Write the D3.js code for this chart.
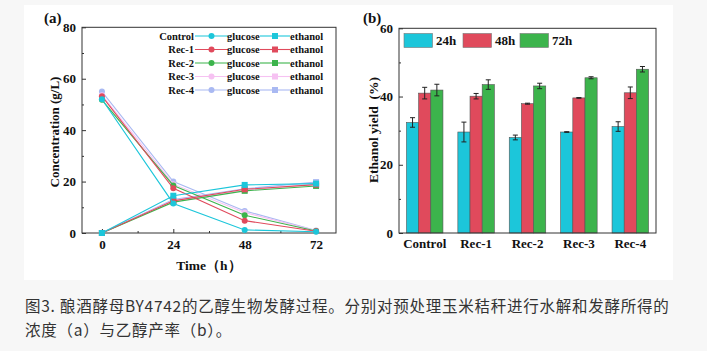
<!DOCTYPE html>
<html>
<head>
<meta charset="utf-8">
<script src="https://cdn.jsdelivr.net/npm/d3@7"></script>
<style>
  html, body { margin: 0; padding: 0; background: #f7f7f7; }
  svg { display: block; }
  .serif { font-family: "Liberation Serif", "Times New Roman", serif; font-weight: bold; fill: #111; }
</style>
</head>
<body>
<svg id="chart" width="707" height="351"></svg>
<script>
// ---- data ----
const times = [0, 24, 48, 72];
const strains = ['Control', 'Rec-1', 'Rec-2', 'Rec-3', 'Rec-4'];
const strainColors = ['#1cc6da', '#e04a5c', '#3cb44c', '#f6c2f2', '#a9b9f2'];
const glucose = [
  [52.0, 11.5, 1.2, 0.5],
  [53.2, 17.4, 4.8, 0.7],
  [51.8, 18.5, 6.9, 0.8],
  [53.6, 19.0, 8.0, 0.9],
  [55.0, 20.0, 8.6, 1.0]
];
const ethanol = [
  [0, 14.5, 18.7, 19.2],
  [0, 12.5, 17.0, 18.8],
  [0, 12.0, 16.4, 18.3],
  [0, 12.6, 16.6, 19.0],
  [0, 13.0, 17.2, 19.8]
];

const groups = ['Control', 'Rec-1', 'Rec-2', 'Rec-3', 'Rec-4'];
const periods = ['24h', '48h', '72h'];
const periodColors = ['#1cc6da', '#e04a5c', '#3cb44c'];
const yieldMean = [   // rows = period
  [32.4, 29.6, 28.0, 29.6, 31.2],
  [41.0, 40.1, 37.9, 39.6, 41.1],
  [41.9, 43.5, 43.1, 45.5, 48.0]
];
const yieldErr = [
  [1.4, 2.9, 0.7, 0.1, 1.4],
  [1.7, 0.8, 0.15, 0.1, 1.7],
  [1.7, 1.4, 0.8, 0.3, 0.8]
];

const captionLines = [
  '图3. 酿酒酵母BY4742的乙醇生物发酵过程。分别对预处理玉米秸秆进行水解和发酵所得的',
  '浓度（a）与乙醇产率（b）。'
];

const svg = d3.select('#chart');

// white figure area
svg.append('rect')
  .attr('x', 24).attr('y', 5)
  .attr('width', 649).attr('height', 275)
  .attr('fill', '#fff');

// ---------- panel (a) ----------
function renderLinePanel() {
  const x = d3.scaleLinear([-6.7, 78.7], [82, 336]);
  const y = d3.scaleLinear([0, 80], [233, 27.3]);
  const g = svg.append('g');

  g.append('rect')
    .attr('x', 82).attr('y', 27.3)
    .attr('width', 254).attr('height', 233 - 27.3)
    .attr('fill', 'none').attr('stroke', '#333').attr('stroke-width', 1);

  // ticks (inward)
  g.append('g')
    .attr('transform', 'translate(0,233)')
    .call(d3.axisBottom(x).tickValues([0, 24, 48, 72]).tickSize(-4).tickPadding(7).tickFormat(d3.format('d')))
    .call(a => a.select('.domain').remove())
    .call(a => a.selectAll('text').attr('class', 'serif').attr('font-size', 13));
  g.append('g')
    .attr('transform', 'translate(0,233)')
    .call(d3.axisBottom(x).tickValues([12, 36, 60]).tickSize(-2).tickFormat(''))
    .call(a => a.select('.domain').remove());
  g.append('g')
    .attr('transform', 'translate(82,0)')
    .call(d3.axisLeft(y).tickValues([0, 20, 40, 60, 80]).tickSize(-4).tickPadding(6))
    .call(a => a.select('.domain').remove())
    .call(a => a.selectAll('text').attr('class', 'serif').attr('font-size', 13));
  g.append('g')
    .attr('transform', 'translate(82,0)')
    .call(d3.axisLeft(y).tickValues([10, 30, 50, 70]).tickSize(-2).tickFormat(''))
    .call(a => a.select('.domain').remove());
  g.selectAll('.tick line').attr('stroke', '#333');

  const line = d3.line().x((d, i) => x(times[i])).y(d => y(d));

  // draw back to front so Control sits on top
  const order = [4, 3, 2, 1, 0];
  order.forEach(i => {
    const c = strainColors[i];
    [ethanol[i], glucose[i]].forEach((vals, k) => {
      g.append('path')
        .attr('d', line(vals))
        .attr('fill', 'none')
        .attr('stroke', c)
        .attr('stroke-width', 1.1);
      if (k === 1) {
        g.selectAll(null).data(vals).join('circle')
          .attr('cx', (d, j) => x(times[j]))
          .attr('cy', d => y(d))
          .attr('r', 3)
          .attr('fill', c);
      } else {
        g.selectAll(null).data(vals).join('rect')
          .attr('x', (d, j) => x(times[j]) - 3)
          .attr('y', d => y(d) - 3)
          .attr('width', 6).attr('height', 6)
          .attr('fill', c);
      }
    });
  });

  // legend
  const rowY = d3.scalePoint(strains, [36, 90]);
  const leg = g.append('g');
  strains.forEach((s, i) => {
    const c = strainColors[i];
    const yy = rowY(s);
    leg.append('text').attr('class', 'serif')
      .attr('x', 194).attr('y', yy).attr('dy', '0.35em')
      .attr('text-anchor', 'end').attr('font-size', 10.5)
      .text(s);
    leg.append('line')
      .attr('x1', 195).attr('x2', 228).attr('y1', yy).attr('y2', yy)
      .attr('stroke', c).attr('stroke-width', 1.1);
    leg.append('circle').attr('cx', 211.5).attr('cy', yy).attr('r', 3).attr('fill', c);
    leg.append('text').attr('class', 'serif')
      .attr('x', 227).attr('y', yy).attr('dy', '0.35em')
      .attr('font-size', 10.5)
      .text('glucose');
    leg.append('line')
      .attr('x1', 260).attr('x2', 290).attr('y1', yy).attr('y2', yy)
      .attr('stroke', c).attr('stroke-width', 1.1);
    leg.append('rect').attr('x', 272).attr('y', yy - 3)
      .attr('width', 6).attr('height', 6).attr('fill', c);
    leg.append('text').attr('class', 'serif')
      .attr('x', 290).attr('y', yy).attr('dy', '0.35em')
      .attr('font-size', 10.5)
      .text('ethanol');
  });

  g.append('text').attr('class', 'serif')
    .attr('x', 209).attr('y', 265).attr('dy', '0.35em')
    .attr('text-anchor', 'middle').attr('font-size', 13.5)
    .text('Time（h）');
  g.append('text').attr('class', 'serif')
    .attr('transform', 'translate(54,132) rotate(-90)')
    .attr('dy', '0.35em')
    .attr('text-anchor', 'middle').attr('font-size', 13)
    .text('Concentration (g/L)');
  g.append('text').attr('class', 'serif')
    .attr('x', 44).attr('y', 18).attr('dy', '0.35em')
    .attr('font-size', 15)
    .text('(a)');
}

// ---------- panel (b) ----------
function renderBarPanel() {
  const x = d3.scaleBand(groups, [399, 656]);
  const inner = d3.scaleBand(periods, [0, x.bandwidth() * 0.71]);
  const y = d3.scaleLinear([0, 60], [233, 28.3]);
  const g = svg.append('g');
  const off = (x.bandwidth() - inner.range()[1]) / 2;

  g.append('g')
    .attr('transform', 'translate(399,0)')
    .call(d3.axisLeft(y).tickValues([0, 20, 40, 60]).tickSize(-4).tickPadding(6))
    .call(a => a.select('.domain').remove())
    .call(a => a.selectAll('text').attr('class', 'serif').attr('font-size', 13));
  g.append('g')
    .attr('transform', 'translate(399,0)')
    .call(d3.axisLeft(y).tickValues([10, 30, 50]).tickSize(-2).tickFormat(''))
    .call(a => a.select('.domain').remove());
  g.append('g')
    .attr('transform', 'translate(0,233)')
    .call(d3.axisBottom(x).tickSize(0).tickPadding(6))
    .call(a => a.select('.domain').remove())
    .call(a => a.selectAll('text').attr('class', 'serif').attr('font-size', 13));
  g.selectAll('.tick line').attr('stroke', '#333');

  periods.forEach((p, k) => {
    g.selectAll(null).data(yieldMean[k]).join('rect')
      .attr('x', (d, i) => x(groups[i]) + off + inner(p))
      .attr('y', d => y(d))
      .attr('width', inner.bandwidth())
      .attr('height', d => y(0) - y(d))
      .attr('fill', periodColors[k])
      .attr('stroke', '#555').attr('stroke-width', 0.6);
  });

  // error bars
  periods.forEach((p, k) => {
    yieldMean[k].forEach((m, i) => {
      const cx = x(groups[i]) + off + inner(p) + inner.bandwidth() / 2;
      const e = yieldErr[k][i];
      const eg = g.append('g').attr('stroke', '#222').attr('stroke-width', 1);
      eg.append('line').attr('x1', cx).attr('x2', cx).attr('y1', y(m - e)).attr('y2', y(m + e));
      eg.append('line').attr('x1', cx - 2.5).attr('x2', cx + 2.5).attr('y1', y(m - e)).attr('y2', y(m - e));
      eg.append('line').attr('x1', cx - 2.5).attr('x2', cx + 2.5).attr('y1', y(m + e)).attr('y2', y(m + e));
    });
  });

  g.append('rect')
    .attr('x', 399).attr('y', 28.3)
    .attr('width', 257).attr('height', 233 - 28.3)
    .attr('fill', 'none').attr('stroke', '#333').attr('stroke-width', 1);

  // legend
  const legX = [404, 463, 520];
  periods.forEach((p, k) => {
    g.append('rect')
      .attr('x', legX[k]).attr('y', 33.5)
      .attr('width', 28.5).attr('height', 14)
      .attr('fill', periodColors[k])
      .attr('stroke', '#777').attr('stroke-width', 0.6);
    g.append('text').attr('class', 'serif')
      .attr('x', legX[k] + 32).attr('y', 40.5).attr('dy', '0.35em')
      .attr('font-size', 13)
      .text(p);
  });

  g.append('text').attr('class', 'serif')
    .attr('transform', 'translate(373,130) rotate(-90)')
    .attr('dy', '0.35em')
    .attr('text-anchor', 'middle').attr('font-size', 13.5)
    .attr('xml:space', 'preserve')
    .style('white-space', 'pre')
    .text('Ethanol yield  (%)');
  g.append('text').attr('class', 'serif')
    .attr('x', 363).attr('y', 18).attr('dy', '0.35em')
    .attr('font-size', 15)
    .text('(b)');
}

renderLinePanel();
renderBarPanel();

// caption
svg.append('g')
  .selectAll('text')
  .data(captionLines)
  .join('text')
  .attr('x', 25)
  .attr('y', (d, i) => 307 + i * 24)
  .attr('dy', '0.35em')
  .attr('font-family', '"Noto Sans CJK SC", "Noto Sans", sans-serif')
  .attr('font-size', 15.5)
  .attr('letter-spacing', 0.75)
  .attr('fill', '#333')
  .text(d => d);
</script>
</body>
</html>
